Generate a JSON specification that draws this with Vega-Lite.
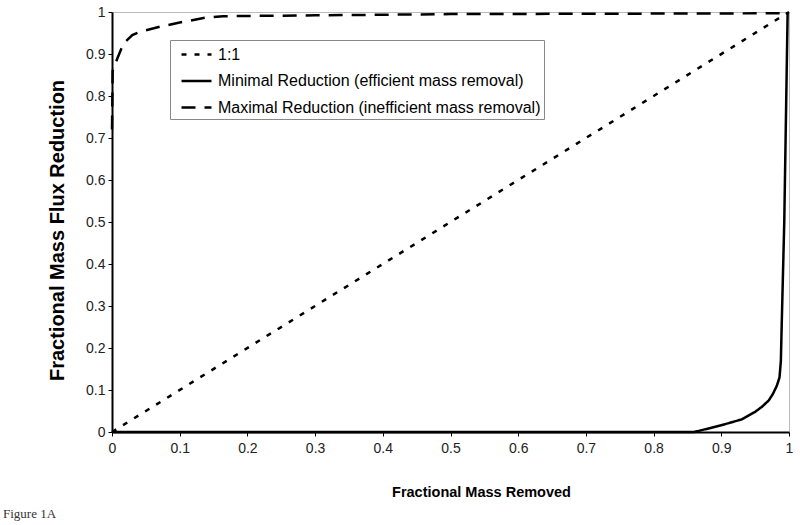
{
  "$schema": "https://vega.github.io/schema/vega-lite/v6.json",
  "autosize": "none",
  "width": 677,
  "height": 420,
  "padding": {"left": 112, "top": 12, "right": 11, "bottom": 93},
  "background": "white",
  "title": {
    "text": "Figure 1A",
    "orient": "bottom",
    "anchor": "start",
    "frame": "group",
    "dx": -109,
    "offset": 9,
    "font": "Liberation Serif",
    "fontSize": 13,
    "fontWeight": "normal",
    "color": "#333"
  },
  "config": {
    "view": {"stroke": "#bbbbbb", "strokeWidth": 1},
    "axis": {
      "grid": false,
      "domainColor": "black",
      "domainWidth": 2,
      "tickColor": "black",
      "tickSize": 4,
      "labelFont": "Liberation Sans",
      "labelFontSize": 14,
      "labelColor": "#222",
      "titleFont": "Liberation Sans",
      "titleFontWeight": "bold",
      "titleColor": "black"
    },
    "legend": {
      "orient": "none",
      "legendX": 58,
      "legendY": 28,
      "strokeColor": "#888",
      "fillColor": "white",
      "padding": 3,
      "rowPadding": 6.5,
      "labelFont": "Liberation Sans",
      "labelFontSize": 16,
      "labelColor": "black",
      "labelLimit": 500,
      "symbolType": "M-0.3,0H2.7",
      "symbolSize": 400,
      "symbolStrokeWidth": 2.5,
      "symbolStrokeColor": "black",
      "labelOffset": 22
    }
  },
  "data": {
    "values": [
      {"series": "1:1", "x": 0, "y": 0, "o": 0},
      {"series": "1:1", "x": 1, "y": 1, "o": 1},
      {"series": "Minimal Reduction (efficient mass removal)", "x": 0, "y": 0, "o": 0},
      {"series": "Minimal Reduction (efficient mass removal)", "x": 0.86, "y": 0, "o": 1},
      {"series": "Minimal Reduction (efficient mass removal)", "x": 0.87, "y": 0.004, "o": 2},
      {"series": "Minimal Reduction (efficient mass removal)", "x": 0.9, "y": 0.016, "o": 3},
      {"series": "Minimal Reduction (efficient mass removal)", "x": 0.93, "y": 0.03, "o": 4},
      {"series": "Minimal Reduction (efficient mass removal)", "x": 0.95, "y": 0.048, "o": 5},
      {"series": "Minimal Reduction (efficient mass removal)", "x": 0.96, "y": 0.06, "o": 6},
      {"series": "Minimal Reduction (efficient mass removal)", "x": 0.97, "y": 0.075, "o": 7},
      {"series": "Minimal Reduction (efficient mass removal)", "x": 0.976, "y": 0.09, "o": 8},
      {"series": "Minimal Reduction (efficient mass removal)", "x": 0.982, "y": 0.11, "o": 9},
      {"series": "Minimal Reduction (efficient mass removal)", "x": 0.986, "y": 0.13, "o": 10},
      {"series": "Minimal Reduction (efficient mass removal)", "x": 0.988, "y": 0.17, "o": 11},
      {"series": "Minimal Reduction (efficient mass removal)", "x": 0.989, "y": 0.24, "o": 12},
      {"series": "Minimal Reduction (efficient mass removal)", "x": 0.993, "y": 0.5, "o": 13},
      {"series": "Minimal Reduction (efficient mass removal)", "x": 0.998, "y": 1.0, "o": 14},
      {"series": "Maximal Reduction (inefficient mass removal)", "x": 0, "y": 0.72, "o": 0},
      {"series": "Maximal Reduction (inefficient mass removal)", "x": 0.001, "y": 0.86, "o": 1},
      {"series": "Maximal Reduction (inefficient mass removal)", "x": 0.008, "y": 0.89, "o": 2},
      {"series": "Maximal Reduction (inefficient mass removal)", "x": 0.017, "y": 0.925, "o": 3},
      {"series": "Maximal Reduction (inefficient mass removal)", "x": 0.03, "y": 0.945, "o": 4},
      {"series": "Maximal Reduction (inefficient mass removal)", "x": 0.041, "y": 0.953, "o": 5},
      {"series": "Maximal Reduction (inefficient mass removal)", "x": 0.071, "y": 0.965, "o": 6},
      {"series": "Maximal Reduction (inefficient mass removal)", "x": 0.1, "y": 0.975, "o": 7},
      {"series": "Maximal Reduction (inefficient mass removal)", "x": 0.14, "y": 0.987, "o": 8},
      {"series": "Maximal Reduction (inefficient mass removal)", "x": 0.164, "y": 0.99, "o": 9},
      {"series": "Maximal Reduction (inefficient mass removal)", "x": 0.3, "y": 0.992, "o": 10},
      {"series": "Maximal Reduction (inefficient mass removal)", "x": 0.5, "y": 0.995, "o": 11},
      {"series": "Maximal Reduction (inefficient mass removal)", "x": 1, "y": 0.997, "o": 12}
    ]
  },
  "mark": {"type": "line", "color": "black", "strokeWidth": 2.5, "clip": false},
  "encoding": {
    "x": {
      "field": "x", "type": "quantitative",
      "scale": {"domain": [0, 1], "nice": false, "zero": false},
      "axis": {"values": [0, 0.1, 0.2, 0.3, 0.4, 0.5, 0.6, 0.7, 0.8, 0.9, 1], "format": "~g", "title": "Fractional Mass Removed", "titleFontSize": 14.5, "labelPadding": 5, "titlePadding": 30, "titleX": 369, "labelFlush": false}
    },
    "y": {
      "field": "y", "type": "quantitative",
      "scale": {"domain": [0, 1], "nice": false, "zero": false},
      "axis": {"values": [0, 0.1, 0.2, 0.3, 0.4, 0.5, 0.6, 0.7, 0.8, 0.9, 1], "format": "~g", "title": "Fractional Mass Flux Reduction", "titleFontSize": 20, "labelPadding": 3, "titlePadding": 18, "titleY": 218, "labelFlush": false}
    },
    "strokeDash": {
      "field": "series", "type": "nominal",
      "scale": {
        "domain": ["1:1", "Minimal Reduction (efficient mass removal)", "Maximal Reduction (inefficient mass removal)"],
        "range": [[5, 8], [1, 0], [14, 9]]
      },
      "legend": {"title": null}
    },
    "order": {"field": "o", "type": "quantitative"}
  }
}
